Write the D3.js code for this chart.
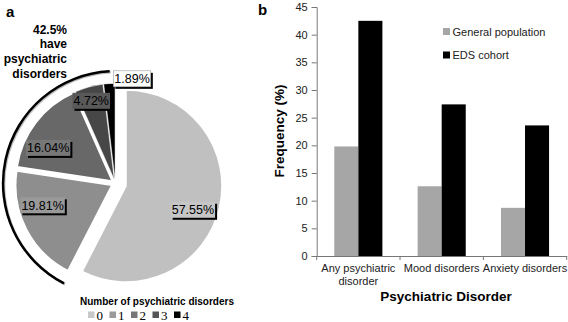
<!DOCTYPE html>
<meta charset="utf-8">
<style>
  body { margin: 0; background: #fff; }
  text { font-family: "Liberation Sans", Arial, sans-serif; }
</style>
<svg width="568" height="322"></svg>
<script src="https://d3js.org/d3.v7.min.js"></script>
<script>
  // panel a: share of cohort by number of psychiatric disorders
  var countLabels = ["0", "1", "2", "3", "4"];
  var countShares = [57.55, 19.81, 16.04, 4.72, 1.89];
  var summaryText = ["42.5%", "have", "psychiatric", "disorders"];

  // panel b: frequency by disorder
  var disorders = [["Any psychiatric", "disorder"], ["Mood disorders"], ["Anxiety disorders"]];
  var groups = ["General population", "EDS cohort"];
  var generalPop = [19.8, 12.6, 8.7];
  var edsCohort = [42.5, 27.4, 23.6];
  var yTicks = [0, 5, 10, 15, 20, 25, 30, 35, 40, 45];

  var svg = d3.select("svg");

  svg.append("text").attr("x", 6).attr("y", 17).attr("font-size", 15).attr("font-weight", "bold").text("a");
  svg.append("text").attr("x", 258).attr("y", 15).attr("font-size", 15).attr("font-weight", "bold").text("b");

  // ---------- pie ----------
  var sliceColor = d3.scaleOrdinal().domain(countLabels)
    .range(["#c0c0c0", "#8e8e8e", "#686868", "#474747", "#000000"]);
  var swatchColor = d3.scaleOrdinal().domain(countLabels)
    .range(["#c8c8c8", "#9a9a9a", "#777777", "#555555", "#000000"]);

  var R = 96;
  var cx = 115.3, cy = 183.4;
  var explode = function(i) { return i === 0 ? 11 : 4; };
  // label placement: angle shift (deg) from slice middle, radius
  var labelShift = [6, 11, -10, -1, 13];
  var labelRad = [71, 72, 72, 82, 102];

  var pie = d3.pie().sort(null).value(function(d) { return d; });
  var arcs = pie(countShares);
  var arc = d3.arc().innerRadius(0).outerRadius(R);

  var pg = svg.append("g").attr("transform", "translate(" + cx + "," + cy + ")");

  function offset(d, i) {
    var mid = (d.startAngle + d.endAngle) / 2, e = explode(i);
    return [Math.sin(mid) * e, -Math.cos(mid) * e];
  }

  // bracket arc around the slices with disorders
  var bracket = d3.arc().innerRadius(111).outerRadius(113.5)
    .startAngle(arcs[0].endAngle).endAngle(2 * Math.PI - 0.05);
  pg.append("path").attr("d", bracket()).attr("fill", "#bbb").attr("transform", "translate(1,1)");
  pg.append("path").attr("d", bracket()).attr("fill", "#000");

  pg.selectAll(".slice").data(arcs).enter().append("path")
    .attr("class", "slice")
    .attr("transform", function(d, i) { return "translate(" + offset(d, i) + ")"; })
    .attr("d", arc)
    .attr("fill", function(d, i) { return sliceColor(countLabels[i]); })
    .attr("stroke", "#fff")
    .attr("stroke-width", function(d, i) { return i >= 3 ? 0.5 : 1.5; });

  var lab = pg.selectAll(".plab").data(arcs).enter().append("g")
    .attr("class", "plab")
    .attr("transform", function(d, i) {
      var o = offset(d, i);
      var a = (d.startAngle + d.endAngle) / 2 + labelShift[i] * Math.PI / 180;
      return "translate(" + (o[0] + Math.sin(a) * labelRad[i]) + "," + (o[1] - Math.cos(a) * labelRad[i]) + ")";
    });
  lab.each(function(d, i) {
    var g = d3.select(this);
    var t = d3.format(".2f")(d.value) + "%";
    var w = t.length * 6.9 + 3, h = 16;
    var fill = i === 4 ? "#fff" : d3.interpolateRgb(sliceColor(countLabels[i]), "#fff")(0.1);
    g.append("rect").attr("x", -w / 2 + 2).attr("y", -h / 2 + 2).attr("width", w).attr("height", h).attr("fill", "#000");
    g.append("rect").attr("x", -w / 2).attr("y", -h / 2).attr("width", w).attr("height", h).attr("fill", fill)
      .attr("stroke", i === 4 ? "#888" : "none").attr("stroke-width", 0.5);
    g.append("text").attr("text-anchor", "middle").attr("y", 4.5).attr("font-size", 12.5).attr("fill", "#000").text(t);
  });

  svg.append("g").selectAll("text").data(summaryText).enter().append("text")
    .attr("x", 67).attr("y", function(d, i) { return 33.5 + i * 14.7; })
    .attr("text-anchor", "end").attr("font-size", 12).attr("font-weight", "bold")
    .text(function(d) { return d; });

  // legend
  svg.append("text").attr("x", 157).attr("y", 305).attr("text-anchor", "middle")
    .attr("font-size", 10).attr("font-weight", "bold").text("Number of psychiatric disorders");
  var legX = d3.scalePoint().domain(countLabels).range([88, 174]);
  var li = svg.append("g").selectAll("g").data(countLabels).enter().append("g")
    .attr("transform", function(d) { return "translate(" + legX(d) + ",315)"; });
  li.append("rect").attr("x", 0).attr("y", -3.5).attr("width", 6.5).attr("height", 6.5)
    .attr("fill", function(d) { return swatchColor(d); });
  li.append("text").attr("x", 8.5).attr("y", 4.5).attr("font-size", 13)
    .style("font-family", "'Liberation Serif', serif").text(function(d) { return d; });

  // ---------- bars ----------
  var x0 = d3.scaleBand().domain(d3.range(disorders.length)).range([316.7, 566.7]).padding(0);
  var x1 = d3.scaleBand().domain(groups).range([17.6, 65.7]).padding(0);
  var y = d3.scaleLinear().domain([0, 45]).range([256, 7]);
  var barColor = d3.scaleOrdinal().domain(groups).range(["#a6a6a6", "#000000"]);

  var rows = disorders.map(function(d, i) {
    return [{ g: groups[0], v: generalPop[i] }, { g: groups[1], v: edsCohort[i] }];
  });

  svg.append("g").selectAll("g").data(rows).enter().append("g")
    .attr("transform", function(d, i) { return "translate(" + x0(i) + ",0)"; })
    .selectAll("rect").data(function(d) { return d; }).enter().append("rect")
    .attr("x", function(d) { return x1(d.g); })
    .attr("width", x1.bandwidth())
    .attr("y", function(d) { return y(d.v); })
    .attr("height", function(d) { return y(0) - y(d.v); })
    .attr("fill", function(d) { return barColor(d.g); });

  var yAxis = svg.append("g").attr("transform", "translate(316.7,0)")
    .call(d3.axisLeft(y).tickValues(yTicks).tickSize(5).tickPadding(4));
  yAxis.selectAll("text").attr("font-size", 11).attr("fill", "#222").style("font-family", "'Liberation Sans', Arial, sans-serif");
  yAxis.selectAll("line, path").attr("stroke", "#777");

  var xAxis = svg.append("g").attr("transform", "translate(0,256)")
    .call(d3.axisBottom(x0).tickSize(0).tickFormat(""));
  xAxis.selectAll("path").attr("stroke", "#777");
  xAxis.selectAll(".sep").data(d3.range(disorders.length + 1)).enter().append("line")
    .attr("class", "sep")
    .attr("x1", function(d) { return 316.7 + d * x0.bandwidth(); })
    .attr("x2", function(d) { return 316.7 + d * x0.bandwidth(); })
    .attr("y1", 0).attr("y2", 4).attr("stroke", "#777");

  svg.append("g").selectAll("text").data(disorders).enter().append("text")
    .attr("x", function(d, i) { return x0(i) + x0.bandwidth() / 2; })
    .attr("y", 272).attr("text-anchor", "middle").attr("font-size", 11).attr("fill", "#222")
    .each(function(d) {
      var t = d3.select(this);
      d.forEach(function(line, k) {
        t.append("tspan").attr("x", t.attr("x")).attr("dy", k === 0 ? 0 : 12.5).text(line);
      });
    });

  svg.append("text").attr("x", 446).attr("y", 301).attr("text-anchor", "middle")
    .attr("font-size", 13.5).attr("font-weight", "bold").text("Psychiatric Disorder");
  svg.append("text").attr("transform", "translate(284,131) rotate(-90)").attr("text-anchor", "middle")
    .attr("font-size", 13.5).attr("font-weight", "bold").text("Frequency (%)");

  // legend b
  var lb = svg.append("g").selectAll("g").data(groups).enter().append("g")
    .attr("transform", function(d, i) { return "translate(443," + (31.5 + i * 23.5) + ")"; });
  lb.append("rect").attr("x", 0).attr("y", -3.5).attr("width", 7).attr("height", 7)
    .attr("fill", function(d) { return barColor(d); });
  lb.append("text").attr("x", 9.5).attr("y", 4).attr("font-size", 11).attr("fill", "#222")
    .text(function(d) { return d; });
</script>
